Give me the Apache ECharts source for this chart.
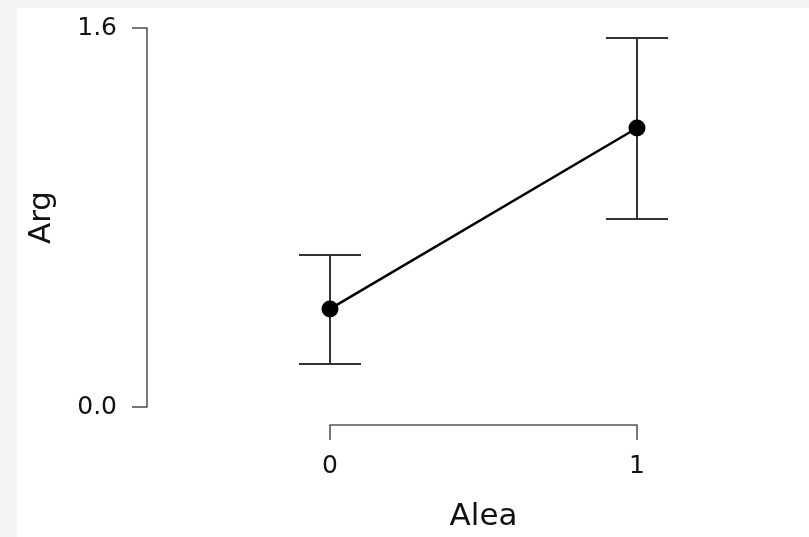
<!DOCTYPE html>
<html>
<head>
<meta charset="utf-8">
<script src="https://cdn.jsdelivr.net/npm/echarts@6/dist/echarts.min.js"></script>
<style>
html,body{margin:0;padding:0;background:#f4f4f4;width:809px;height:537px;overflow:hidden;}
#c{position:absolute;left:17px;top:8px;width:792px;height:529px;background:#fff;}
</style>
</head>
<body>
<div id="c"></div>
<script>
const xValues = [0, 1];
const xTicks = ['0', '1'];
const means = [0.414, 1.178];
const lowers = [0.182, 0.794];
const uppers = [0.642, 1.558];
const yTicks = [0.0, 1.6];

const chart = echarts.init(document.getElementById('c'));
const FONT = 'DejaVu Sans';
const axisColor = '#555';

chart.setOption({
  animation: false,
  grid: { left: 313, right: 172, top: 20, bottom: 130 },
  xAxis: {
    type: 'value', min: xValues[0], max: xValues[xValues.length - 1], interval: 1,
    offset: 18,
    name: 'Alea', nameLocation: 'middle', nameGap: 76,
    nameTextStyle: { fontFamily: FONT, fontSize: 31, color: '#111' },
    axisLine: { show: true, onZero: false, lineStyle: { color: axisColor, width: 1.6 } },
    axisTick: { show: true, length: 15, lineStyle: { color: axisColor, width: 1.6 } },
    axisLabel: { margin: 29, fontFamily: FONT, fontSize: 25, color: '#111',
      formatter: v => xTicks[xValues.indexOf(v)] ?? '' },
    splitLine: { show: false }
  },
  yAxis: {
    type: 'value', min: yTicks[0], max: yTicks[1], interval: yTicks[1] - yTicks[0],
    offset: 183,
    name: 'Arg', nameLocation: 'middle', nameGap: 90,
    nameTextStyle: { fontFamily: FONT, fontSize: 31, color: '#111' },
    axisLine: { show: true, onZero: false, lineStyle: { color: axisColor, width: 1.6 } },
    axisTick: { show: true, length: 15, lineStyle: { color: axisColor, width: 1.6 } },
    axisLabel: { margin: 30, fontFamily: FONT, fontSize: 25, color: '#111',
      formatter: v => v.toFixed(1) },
    splitLine: { show: false }
  },
  series: [
    {
      type: 'custom',
      z: 1,
      data: xValues.map((x, i) => [x, lowers[i], uppers[i]]),
      renderItem: function (params, api) {
        const x = api.value(0);
        const lo = api.coord([x, api.value(1)]);
        const hi = api.coord([x, api.value(2)]);
        const hw = 31;
        const style = { stroke: '#333', lineWidth: 2 };
        return {
          type: 'group',
          children: [
            { type: 'line', shape: { x1: lo[0], y1: lo[1], x2: hi[0], y2: hi[1] }, style },
            { type: 'line', shape: { x1: lo[0] - hw, y1: lo[1], x2: lo[0] + hw, y2: lo[1] }, style },
            { type: 'line', shape: { x1: hi[0] - hw, y1: hi[1], x2: hi[0] + hw, y2: hi[1] }, style }
          ]
        };
      }
    },
    {
      type: 'line',
      z: 2,
      data: xValues.map((x, i) => [x, means[i]]),
      symbol: 'circle', symbolSize: 17,
      itemStyle: { color: '#000' },
      lineStyle: { color: '#000', width: 2.5 }
    }
  ]
});
</script>
</body>
</html>
